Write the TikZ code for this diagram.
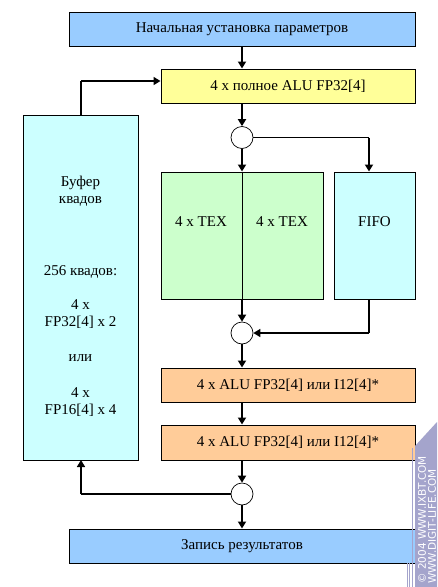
\documentclass[tikz,border=0pt]{standalone}
\usepackage{fontspec}
\setmainfont{Liberation Serif}
\newfontfamily\wmfont{DejaVu Sans}
\usetikzlibrary{arrows.meta}
\definecolor{cblue}{HTML}{99CCFF}
\definecolor{cyellow}{HTML}{FFFF99}
\definecolor{ccyan}{HTML}{CCFFFF}
\definecolor{cgreen}{HTML}{CCFFCC}
\definecolor{corange}{HTML}{FFCC99}
\definecolor{cwm}{HTML}{A4A4CC}
\begin{document}
\begin{tikzpicture}[x=1pt,y=-1pt,
  box/.style={draw=black,line width=1pt,inner sep=0pt,font=\fontsize{15}{17}\selectfont},
  junc/.style={draw=black,fill=white,circle,minimum size=22pt,inner sep=0pt,line width=0.7pt},
  thk/.style={line width=2.6pt,-{Triangle[length=7pt,width=8pt]}},
  thn/.style={line width=1.6pt},
  thnar/.style={line width=1.6pt,-{Triangle[length=7pt,width=8pt]}},
  lbl/.style={font=\fontsize{15}{17}\selectfont,align=center,inner sep=0pt}]
\useasboundingbox (0,0) rectangle (437,587);
\fill[white] (0,0) rectangle (437,587);
% boxes
\node[box,fill=cblue,minimum width=346pt,minimum height=34pt] (init) at (242,29) {Начальная установка параметров};
\node[box,fill=cyellow,minimum width=254pt,minimum height=34pt] (alu) at (288,86) {4 x полное ALU FP32[4]};
\node[box,fill=ccyan,minimum width=115pt,minimum height=345pt] (buf) at (80.5,287.5) {};
\node[lbl] (buft1) at (80.5,191) {Буфер\\квадов};
\node[lbl] (buft2) at (80.5,272) {256 квадов:};
\node[lbl] (buft3) at (80.5,314.5) {4 x\\FP32[4] x 2};
\node[lbl] (buft4) at (80.5,358) {или};
\node[lbl] (buft5) at (80.5,402.5) {4 x\\FP16[4] x 4};
\node[box,fill=cgreen,minimum width=162pt,minimum height=127pt] (tex) at (242,235.5) {};
\node[lbl] (tex1) at (201,222) {4 x TEX};
\node[lbl] (tex2) at (282,222) {4 x TEX};
\node[box,fill=ccyan,minimum width=81pt,minimum height=127pt] (fifo) at (374.5,235.5) {};
\node[lbl] (fifot) at (374.5,222) {FIFO};
\node[box,fill=corange,minimum width=254pt,minimum height=34pt] (o1) at (288,385) {4 x ALU FP32[4] или I12[4]*};
\node[box,fill=corange,minimum width=254pt,minimum height=35pt] (o2) at (288,442.5) {4 x ALU FP32[4] или I12[4]*};
\node[box,fill=cblue,minimum width=346pt,minimum height=34pt] (res) at (242,546) {Запись результатов};
% junctions
\node[junc] (j1) at (242,137.5) {};
\node[junc] (j2) at (242,333) {};
\node[junc] (j3) at (242,494) {};
% coordinates
\coordinate (bufTop) at (81,115);
\coordinate (bufBot) at (81,460);
\coordinate (loopTop) at (81,81);
\coordinate (fifoIn) at (369,137.5);
\coordinate (fifoOut) at (369,333);
% connectors
\draw[thk] (init.south -| j1) -- (alu.north -| j1);
\draw[thk] (alu.south -| j1) -- (j1.north);
\draw[thk] (j1.south) -- (tex.north);
\draw[line width=1pt] (tex.north) -- (tex.south);
\draw[thn] (j1.east) -- (fifoIn);
\draw[thk] (fifoIn) -- (fifo.north -| fifoIn);
\draw[thk] (tex.south) -- (j2.north);
\draw[thn] (fifo.south -| fifoOut) -- (fifoOut);
\draw[thnar] (fifoOut) -- (j2.east);
\draw[thk] (j2.south) -- (o1.north -| j2);
\draw[thk] (o1.south -| j2) -- (o2.north -| j2);
\draw[thk] (o2.south -| j3) -- (j3.north);
\draw[thk] (j3.south) -- (res.north -| j3);
\draw[thn] (j3.west) -- (bufBot |- j3);
\draw[thnar] (bufBot |- j3) -- (bufBot);
\draw[thn] (bufTop) -- (loopTop);
\draw[thnar] (loopTop) -- (alu.west |- loopTop);
% watermark
\fill[cwm] (415,446) -- (437,422) -- (437,587) -- (415,587) -- cycle;
\draw[cwm,line width=0.8pt] (412,448) -- (412,587);
\draw[cwm,line width=0.8pt] (407,563) -- (407,587);
\draw[cwm,line width=0.8pt] (409.5,563) -- (409.5,587);
\node[text=white,rotate=90,anchor=west,font=\wmfont\fontsize{10.5}{11}\selectfont,inner sep=0pt] (wm1) at (422,584) {© 2004 WWW.IXBT.COM};
\node[text=white,rotate=90,anchor=west,font=\wmfont\fontsize{10.5}{11}\selectfont,inner sep=0pt] (wm2) at (432,584) {WWW.DIGIT-LIFE.COM};
\end{tikzpicture}
\end{document}
